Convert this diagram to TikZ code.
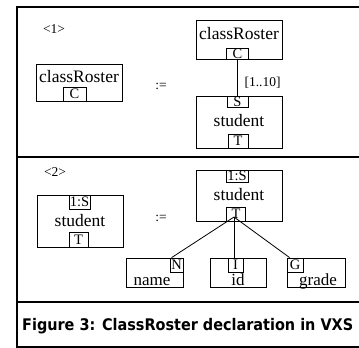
\documentclass[tikz,border=0pt]{standalone}
\usepackage{fontspec}
\usepackage{graphicx}
\setmainfont{Liberation Serif}
\newfontfamily\captfont{DejaVu Sans}
\tikzset{
  frameline/.style={line width=1.3pt},
  bigbox/.style={draw, line width=0.8pt, inner sep=0pt, minimum width=86pt},
  tagbox/.style={draw, line width=0.8pt, inner sep=0pt, font=\fontsize{14.5}{14.5}\selectfont},
  leafbox/.style={draw, line width=0.8pt, inner sep=0pt, minimum height=29pt},
  bigtext/.style={inner sep=0pt, anchor=base, font=\fontsize{17.5}{17.5}\selectfont},
  leaftext/.style={inner sep=0pt, anchor=base, font=\fontsize{17}{17}\selectfont},
  smalltext/.style={inner sep=0pt, font=\fontsize{13.5}{13.5}\selectfont},
  conn/.style={line width=0.8pt}
}
\begin{document}
\begin{tikzpicture}[x=1pt,y=-1pt]
\useasboundingbox (0,0) rectangle (359,348);
% frame
\draw[frameline] (359,7) -- (17,7) -- (17,347) -- (359,347);
\draw[frameline] (17,157) -- (359,157);
\draw[frameline] (17,302) -- (359,302);

% ---------- panel 1 ----------
\node[smalltext] (lab1) at (54,29) {<1>};
\node[bigbox, minimum height=37pt] (crA) at (79,82.5) {};
\node[bigtext] (crAt) at (79,82) {classRoster};
\node[tagbox, minimum width=23pt, minimum height=14pt] (cA) at (74.5,94) {C};
\node[smalltext] (def1) at (161,86) {:=};

\node[bigbox, minimum height=39pt] (crB) at (239,39.5) {};
\node[bigtext] (crBt) at (239,39) {classRoster};
\node[tagbox, minimum width=22pt, minimum height=11pt] (cB) at (237.5,53.5) {C};
\node[bigbox, minimum height=52pt] (stB) at (239,122) {};
\node[tagbox, minimum width=21pt, minimum height=11pt] (sB) at (237.5,101.5) {S};
\node[bigtext] (stBt) at (239,126) {student};
\node[tagbox, minimum width=20pt, minimum height=14pt] (tB) at (238,141) {T};
\draw[conn] (cB.south) -- (sB.north);
\node[smalltext] (mult) at (262.5,83) {[1..10]};

% ---------- panel 2 ----------
\node[smalltext] (lab2) at (55,172) {<2>};
\node[bigbox, minimum height=52pt] (stC) at (80,221) {};
\node[tagbox, minimum width=21pt, minimum height=14pt] (sC) at (79.5,202) {1:S};
\node[bigtext] (stCt) at (80,226) {student};
\node[tagbox, minimum width=19pt, minimum height=15pt] (tC) at (78.5,239.5) {T};
\node[smalltext] (def2) at (161,218) {:=};

\node[bigbox, minimum height=51pt] (stD) at (239,195.5) {};
\node[tagbox, minimum width=22pt, minimum height=12pt] (sD) at (237,176) {1:S};
\node[bigtext] (stDt) at (239,200) {student};
\node[tagbox, minimum width=19pt, minimum height=14pt] (tD) at (236,214) {T};

\node[leafbox, minimum width=57pt] (nm) at (154.5,272.5) {};
\node[tagbox, minimum width=13pt, minimum height=14pt] (nT) at (176.5,265) {N};
\node[leaftext] (nmt) at (152,285) {name};

\node[leafbox, minimum width=56pt] (id) at (238,272.5) {};
\node[tagbox, minimum width=15pt, minimum height=14pt] (iT) at (235.5,265) {I};
\node[leaftext] (idt) at (238,285.5) {id};

\node[leafbox, minimum width=58pt] (gr) at (316,272.5) {};
\node[tagbox, minimum width=16pt, minimum height=14pt] (gT) at (295,265) {G};
\node[leaftext] (grt) at (318,285) {grade};

\coordinate (tj) at (234,217);
\draw[conn] (tj) -- ([xshift=2pt]nT.north west);
\draw[conn] (tj) -- (iT.north -| tj);
\draw[conn] (tj) -- ([xshift=3pt]gT.north west);

% ---------- caption ----------
\node[inner sep=0pt, anchor=base west] (cap) at (22,330)
  {\resizebox{331pt}{\height}{\captfont\bfseries\fontsize{16}{16}\selectfont Figure 3: ClassRoster declaration in VXS}};
\end{tikzpicture}
\end{document}
